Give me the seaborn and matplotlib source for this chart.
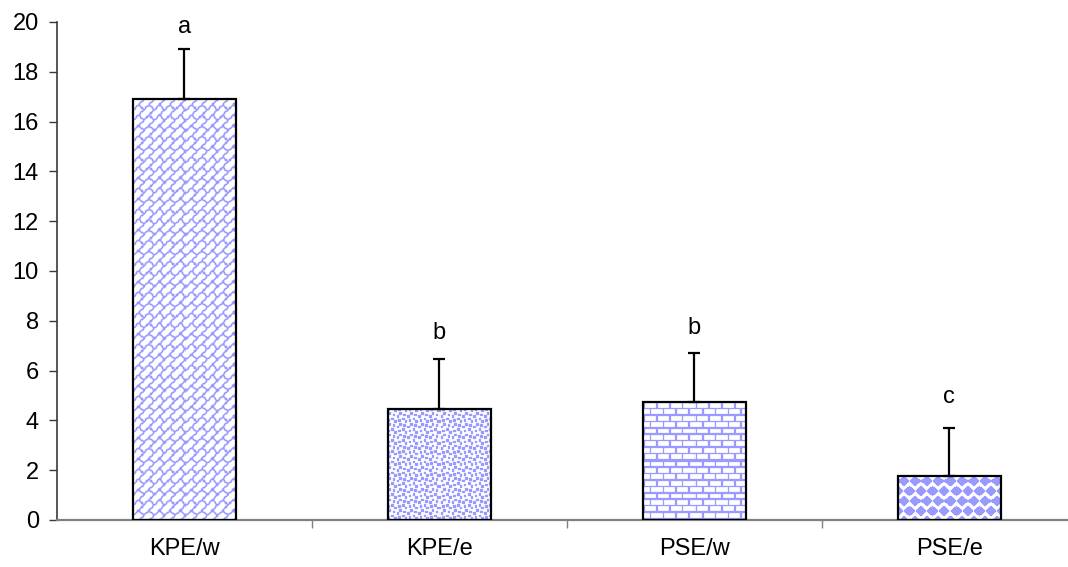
import numpy as np
import pandas as pd
import matplotlib
matplotlib.use("Agg")
import matplotlib.pyplot as plt
import seaborn as sns

# Data
categories = ["KPE/w", "KPE/e", "PSE/w", "PSE/e"]
means = [16.9, 4.45, 4.75, 1.75]
errors = [2.0, 2.0, 1.97, 1.95]
letters = ["a", "b", "b", "c"]
letter_y = [19.55, 7.25, 7.45, 4.7]

sns.set_theme(style="white")
plt.rcParams["font.family"] = ["Liberation Sans", "DejaVu Sans"]

W, H = 1068, 567
fig = plt.figure(figsize=(W / 100, H / 100), dpi=100)
ax = fig.add_axes([57 / W, 1 - 520 / H, 1 - 57 / W, (520 - 22) / H])

df = pd.DataFrame({"group": categories, "value": means})
sns.barplot(data=df, x="group", y="value", order=categories, color="white",
            edgecolor="black", linewidth=1.6, width=0.405, errorbar=None,
            saturation=1, ax=ax)

ax.set_xlim(-0.5, 3.465)
ax.set_ylim(0, 20)
ax.set_yticks(np.arange(0, 21, 2))
ax.set_xlabel("")
ax.set_ylabel("")

# upper-only error bars
x = np.arange(len(categories))
ax.errorbar(x, means, yerr=[np.zeros(len(means)), errors], fmt="none",
            ecolor="black", elinewidth=1.6, capsize=4.5, capthick=1.6, zorder=2.5)

for xi, yi, t in zip(x, letter_y, letters):
    ax.text(xi, yi, t, ha="center", va="baseline", fontsize=17, color="black")

# spines and ticks
for s in ["top", "right"]:
    ax.spines[s].set_visible(False)
ax.spines["left"].set_color("#3a3a3a")
ax.spines["left"].set_linewidth(1.2)
ax.spines["bottom"].set_color("#808080")
ax.spines["bottom"].set_linewidth(1.6)
ax.tick_params(axis="y", which="major", direction="out", length=6, width=1.0,
               color="#3a3a3a", pad=7, labelsize=17, left=True, labelcolor="black")
ax.tick_params(axis="x", which="major", length=0, pad=13, labelsize=17,
               labelcolor="black")
ax.set_xticks([0.5, 1.5, 2.5], minor=True)
ax.tick_params(axis="x", which="minor", direction="out", length=6, width=1.0,
               color="#808080", bottom=True)
ax.grid(False)

# fill patterns (8x8 hatch bitmaps, MSB = leftmost pixel)
diag_brick = [0x01, 0x02, 0x04, 0x08, 0x18, 0x24, 0x42, 0x81]
confetti = [0x8d, 0x0c, 0xc0, 0xd8, 0x1b, 0x03, 0x30, 0xb1]
horiz_brick = [0xff, 0x80, 0x80, 0x80, 0xff, 0x08, 0x08, 0x08]


def bitmap_mask(bits, h, w, scale):
    yy, xx = np.mgrid[0:h, 0:w]
    r = (np.floor(yy / scale).astype(int)) % 8
    c = (np.floor(xx / scale).astype(int)) % 8
    rows = np.array(bits)[r]
    return ((rows >> (7 - c)) & 1).astype(float)


def diamond_mask(h, w, px=11.5, py=10.0):
    yy, xx = np.mgrid[0:h, 0:w] + 0.5
    row = np.floor(yy / py).astype(int)
    xo = xx + (row % 2) * px / 2
    dx = np.abs((xo % px) - px / 2) / (px / 2)
    dy = np.abs((yy % py) - py / 2) / (py / 2)
    return ((dx + dy) < 1.05).astype(float)


def soften(m, k=0.22):
    # light smoothing so the pattern strokes read a little heavier
    p = np.pad(m, 1, mode="wrap")
    nb = p[:-2, 1:-1] + p[2:, 1:-1] + p[1:-1, :-2] + p[1:-1, 2:]
    return np.clip(m + k * nb, 0, 1)


fig.canvas.draw()
blue = np.array([0x99, 0x99, 0xFF]) / 255.0
bars = [p for p in ax.patches]
for i, patch in enumerate(bars):
    x0, y0 = patch.get_x(), patch.get_y()
    x1, y1 = x0 + patch.get_width(), y0 + patch.get_height()
    (dx0, dy0), (dx1, dy1) = ax.transData.transform([(x0, y0), (x1, y1)])
    w = max(int(round(dx1 - dx0)), 1)
    h = max(int(round(dy1 - dy0)), 1)
    if i == 0:
        m = soften(bitmap_mask(diag_brick, h, w, 1.3), 0.3)
    elif i == 1:
        m = soften(bitmap_mask(confetti, h, w, 1.35), 0.12)
    elif i == 2:
        m = soften(bitmap_mask(horiz_brick, h, w, 1.6), 0.12)
    else:
        m = soften(diamond_mask(h, w), 0.1)
    img = 1 - m[..., None] * (1 - blue[None, None, :])
    im = ax.imshow(img, extent=(x0, x1, y0, y1), origin="upper",
                   interpolation="nearest", aspect="auto", zorder=2)
    im.set_clip_path(patch)
    patch.set_facecolor("none")
    patch.set_zorder(3)

ax.set_xlim(-0.5, 3.465)
ax.set_ylim(0, 20)

fig.savefig("out.png", dpi=100)
